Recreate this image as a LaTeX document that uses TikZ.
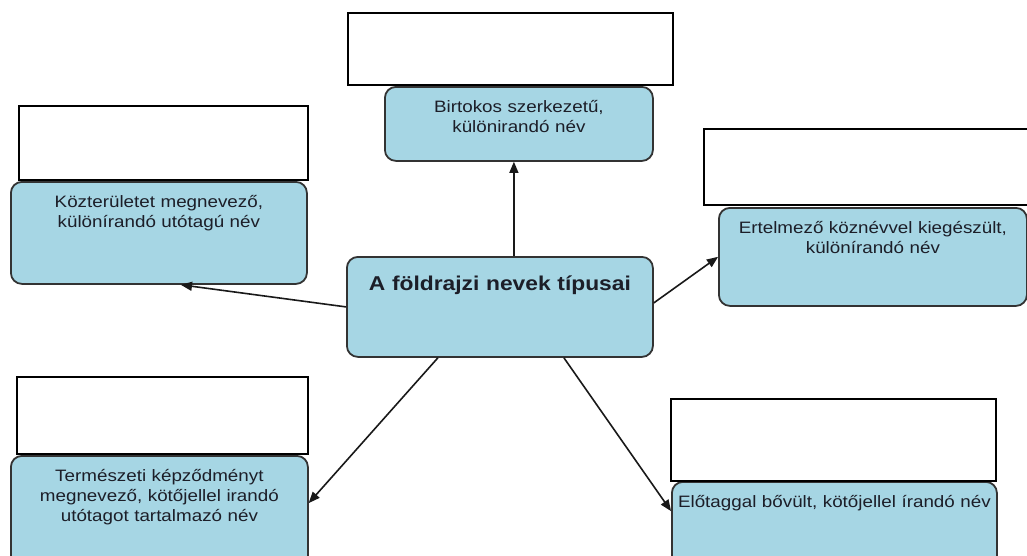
\documentclass[tikz,border=0pt]{standalone}
\usepackage{fontspec}
\newfontfamily\cimke{Liberation Sans}[FakeStretch=1.14]
\usetikzlibrary{arrows}
\definecolor{kekszin}{RGB}{166,214,228}
\definecolor{betuszin}{RGB}{28,30,40}
\tikzset{
	dobozalap/.style = {rectangle, anchor=north west, inner sep=0pt,
		line width=1.8pt},
	ures/.style = {dobozalap, draw=black, fill=white},% ures feher doboz
	tipus/.style = {dobozalap, draw=black!80, fill=kekszin, rounded corners=11pt,
		align=center, text=betuszin, text height=26pt,
		font=\cimke\fontsize{16.5}{19.8}\selectfont},% kek tipus doboz
	fo/.style = {tipus, text height=34pt,
		font=\cimke\bfseries\fontsize{20}{24}\selectfont},% kozepso doboz
	nyil/.style = {->, >=triangle 45, line width=1.6pt, black!90}
}

\begin{document}
\begin{tikzpicture}[x=1pt, y=-1pt]
		\useasboundingbox (0,0) rectangle (1027,555);
		\clip (0,0) rectangle (1027,555);
		\node [fo, minimum width=306pt, text width=300pt, text depth=66pt] (kozep) at (346,256)
			{A földrajzi nevek típusai};
		\node [tipus, minimum width=268pt, text width=260pt, text depth=48pt] (birt) at (384,86)
			{Birtokos szerkezetű,\\ különirandó név};
		\node [tipus, minimum width=296pt, text width=290pt, text depth=76pt] (kozt) at (10,181)
			{Közterületet megnevező,\\ különírandó utótagú név};
		\node [tipus, minimum width=308pt, text width=300pt, text depth=72pt] (ert) at (718,207)
			{Ertelmező köznévvel kiegészült,\\ különírandó név};
		\node [tipus, minimum width=297pt, text width=290pt, text depth=94pt] (term) at (10,455)
			{Természeti képződményt\\ megnevező, kötőjellel irandó\\ utótagot tartalmazó név};
		\node [tipus, minimum width=325pt, text width=320pt, text depth=93pt] (elo) at (671,481)
			{Előtaggal bővült, kötőjellel írandó név};
		% ures dobozok
		\node [ures, minimum width=325pt, minimum height=72pt] (birt_u) at (347,12) {};
		\node [ures, minimum width=289pt, minimum height=74pt] (kozt_u) at (18,105) {};
		\node [ures, minimum width=340pt, minimum height=76pt] (ert_u) at (703,128) {};
		\node [ures, minimum width=291pt, minimum height=77pt] (term_u) at (16,376) {};
		\node [ures, minimum width=325pt, minimum height=82pt] (elo_u) at (670,398) {};
		% nyilak
		\draw [nyil] ([xshift=-5pt]birt.south |- kozep.north) -- ([xshift=-5pt]birt.south);
		\draw [nyil] (kozep.west) -- ([xshift=22pt]kozt.south);
		\draw [nyil] ([yshift=4pt]kozep.east) -- (ert.west);
		\draw [nyil] ([xshift=-62pt]kozep.south) -- ([yshift=-48pt]term.north east);
		\draw [nyil] ([xshift=64pt]kozep.south) -- ([yshift=-30pt]elo.north west);
\end{tikzpicture}
\end{document}
